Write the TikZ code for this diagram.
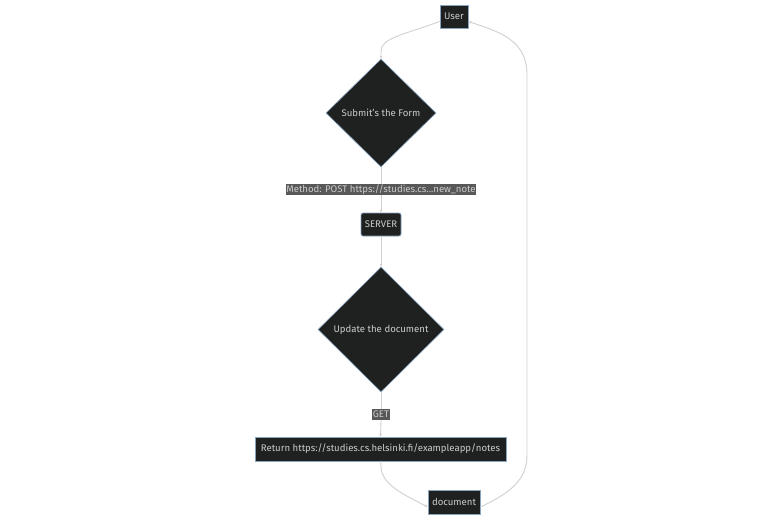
\documentclass[tikz,border=0pt]{standalone}
\usepackage{fontspec}
\setmainfont{Fira Sans}
\usetikzlibrary{shapes.geometric,arrows.meta}
\definecolor{nodefill}{HTML}{1F2020}
\definecolor{nodeborder}{HTML}{8AA4BE}
\definecolor{txt}{HTML}{CCCCCC}
\definecolor{edge}{HTML}{D0D0D0}
\definecolor{lblbg}{HTML}{585858}
\begin{document}
\begin{tikzpicture}[x=1pt,y=-1pt,
  font=\fontsize{9.6}{11}\selectfont,
  box/.style={draw=nodeborder,fill=nodefill,text=txt,line width=0.8pt,inner sep=0pt,minimum height=23pt,anchor=center},
  dec/.style={diamond,draw=nodeborder,fill=nodefill,text=txt,line width=0.6pt,inner sep=0pt,aspect=1},
  lbl/.style={fill=lblbg,text=txt,inner sep=0.5pt,minimum height=11pt},
  conn/.style={draw=edge,line width=0.9pt,-{Stealth[length=3pt,width=3pt]}},
  plain/.style={draw=edge,line width=0.9pt}]
\useasboundingbox (0,0) rectangle (783,520);
\node[box,minimum width=28pt] (user) at (454,16.5) {User};
\node[dec,minimum width=110pt,minimum height=108pt] (submit) at (381,113) {Submit's the Form};
\node[lbl] (post) at (381,189.5) {Method: POST https://studies.cs...new\_note};
\node[box,rounded corners=2pt,minimum width=40pt] (server) at (381,224.5) {SERVER};
\node[dec,minimum width=126pt,minimum height=125pt] (update) at (381,329.5) {Update the document};
\node[lbl] (get) at (381,414.5) {GET};
\node[box,minimum width=251pt,minimum height=24pt] (ret) at (380.5,449) {Return https://studies.cs.helsinki.fi/exampleapp/notes};
\node[box,minimum width=52pt,minimum height=24pt] (doc) at (454,502) {document};
\coordinate (a1) at (381,52);
\draw[conn] ([yshift=-5pt]user.west) .. controls (400,36) and (381,38) .. (a1) -- (submit.north);
\draw[plain] (submit.south) -- (post.north);
\draw[conn] (post.south) -- (server.north);
\draw[conn] (server.south) -- (update.north);
\draw[plain] (update.south) -- (get.north);
\draw[conn] (get.south) -- (ret.north);
\coordinate (b1) at (381,466);
\draw[conn] (ret.south) -- (b1) .. controls (381,485) and (405,495) .. ([yshift=-5pt]doc.west);
\coordinate (c1) at (527,455);
\coordinate (c2) at (527,75);
\draw[conn] ([yshift=-5pt]doc.east) .. controls (510,493) and (527,480) .. (c1) -- (c2) .. controls (527,40) and (500,32) .. ([yshift=-5pt]user.east);
\end{tikzpicture}
\end{document}
